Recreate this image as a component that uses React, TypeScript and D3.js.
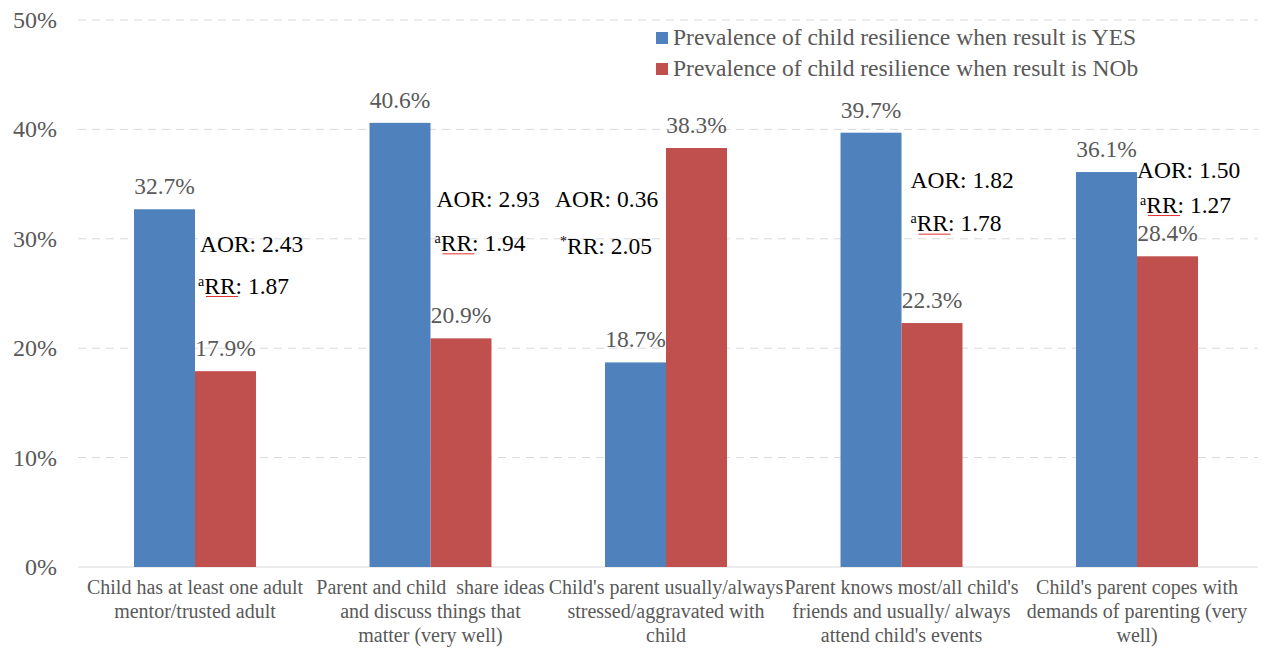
import React from "react";
import * as d3 from "d3";

const categories = [
  "Child has at least one adult mentor/trusted adult",
  "Parent and child  share ideas and discuss things that matter (very well)",
  "Child's parent usually/always stressed/aggravated with child",
  "Parent knows most/all child's friends and usually/ always attend child's events",
  "Child's parent copes with demands of parenting (very well)",
];
const categoryLines = [
  ["Child has at least one adult", "mentor/trusted adult"],
  ["Parent and child  share ideas", "and discuss things that", "matter (very well)"],
  ["Child's parent usually/always", "stressed/aggravated with", "child"],
  ["Parent knows most/all child's", "friends and usually/ always", "attend child's events"],
  ["Child's parent copes with", "demands of parenting (very", "well)"],
];
const seriesNames = [
  "Prevalence of child resilience when result is YES",
  "Prevalence of child resilience when result is NOb",
];
const yesValues = [32.7, 40.6, 18.7, 39.7, 36.1];
const noValues = [17.9, 20.9, 38.3, 22.3, 28.4];
const aorLabels = ["AOR: 2.43", "AOR: 2.93", "AOR: 0.36", "AOR: 1.82", "AOR: 1.50"];
const rrMarks = ["a", "a", "*", "a", "a"];
const rrLabels = ["RR: 1.87", "RR: 1.94", "RR: 2.05", "RR: 1.78", "RR: 1.27"];
const yTicks = [0, 10, 20, 30, 40, 50];

// annotation layout (x offset from group centre in px, y in value units)
const aorDx = [5, 6, -111, 9, 0];
const aorYv = [28.8, 32.9, 32.9, 34.6, 35.6];
const rrDx = [3, 4, -106, 9, 3];
const rrYv = [25.0, 28.9, 28.6, 30.7, 32.4];

const W = 1266;
const H = 648;
const FONT = "'Liberation Serif', serif";
const BLUE = "#4F81BD";
const RED = "#C0504D";
const GREY = "#595959";
const ts = { fontFamily: FONT };

export default function App() {
  const x0 = d3
    .scaleBand<string>()
    .domain(categories)
    .range([77, 1255])
    .paddingInner(0.482)
    .paddingOuter(0.242);
  const x1 = d3.scaleBand<string>().domain(["yes", "no"]).range([0, x0.bandwidth()]);
  const y = d3.scaleLinear().domain([0, 50]).range([567, 20]);

  return (
    <svg
      width={W}
      height={H}
      style={{ position: "absolute", left: 0, top: 0, background: "#fff", fontFamily: FONT }}
    >
      <rect x={0} y={0} width={W} height={H} fill="#fff" />
      {yTicks.map((t) => (
        <g key={t}>
          {t > 0 ? (
            <line
              x1={78}
              x2={1258}
              y1={y(t)}
              y2={y(t)}
              stroke="#d9d9d9"
              strokeWidth={1}
              strokeDasharray="8,6"
            />
          ) : (
            <line x1={78} x2={1258} y1={y(t)} y2={y(t)} stroke="#d9d9d9" strokeWidth={1} />
          )}
          <text x={57} y={y(t) + 8} textAnchor="end" fontSize={24} fill={GREY} style={ts}>
            {t}%
          </text>
        </g>
      ))}

      {categories.map((c, i) => {
        const gx = x0(c)!;
        const cx = gx + x0.bandwidth() / 2;
        const vals = [
          { k: "yes", v: yesValues[i], col: BLUE },
          { k: "no", v: noValues[i], col: RED },
        ];
        return (
          <g key={c}>
            {vals.map((d) => (
              <g key={d.k}>
                <rect
                  x={gx + x1(d.k)!}
                  y={y(d.v)}
                  width={x1.bandwidth()}
                  height={y(0) - y(d.v)}
                  fill={d.col}
                />
                <text
                  x={gx + x1(d.k)! + x1.bandwidth() / 2}
                  y={y(d.v) - 15}
                  textAnchor="middle"
                  fontSize={23.5}
                  fill={GREY}
                  style={ts}
                >
                  {d.v.toFixed(1)}%
                </text>
              </g>
            ))}
            <text x={cx + aorDx[i]} y={y(aorYv[i])} fontSize={23.5} fill="#000" style={ts}>
              {aorLabels[i]}
            </text>
            <text x={cx + rrDx[i]} y={y(rrYv[i])} fontSize={23.5} fill="#000" style={ts}>
              <tspan fontSize={14} dy={-8}>
                {rrMarks[i]}
              </tspan>
              <tspan dy={8}>{rrLabels[i]}</tspan>
            </text>
            {rrMarks[i] === "a" && (
              <line
                x1={cx + rrDx[i] + 8}
                x2={cx + rrDx[i] + 40}
                y1={y(rrYv[i]) + 3}
                y2={y(rrYv[i]) + 3}
                stroke="#e03030"
                strokeWidth={1}
              />
            )}
            {categoryLines[i].map((ln, j) => (
              <text
                key={j}
                x={cx}
                y={594 + j * 24}
                textAnchor="middle"
                fontSize={20}
                fill={GREY}
                style={{ whiteSpace: "pre", fontFamily: FONT }}
              >
                {ln}
              </text>
            ))}
          </g>
        );
      })}

      {seriesNames.map((s, i) => (
        <g key={s}>
          <rect x={656} y={32 + i * 31} width={12} height={12} fill={i === 0 ? BLUE : RED} />
          <text x={673} y={45 + i * 31} fontSize={23.5} fill={GREY} style={ts}>
            {s}
          </text>
        </g>
      ))}
    </svg>
  );
}
